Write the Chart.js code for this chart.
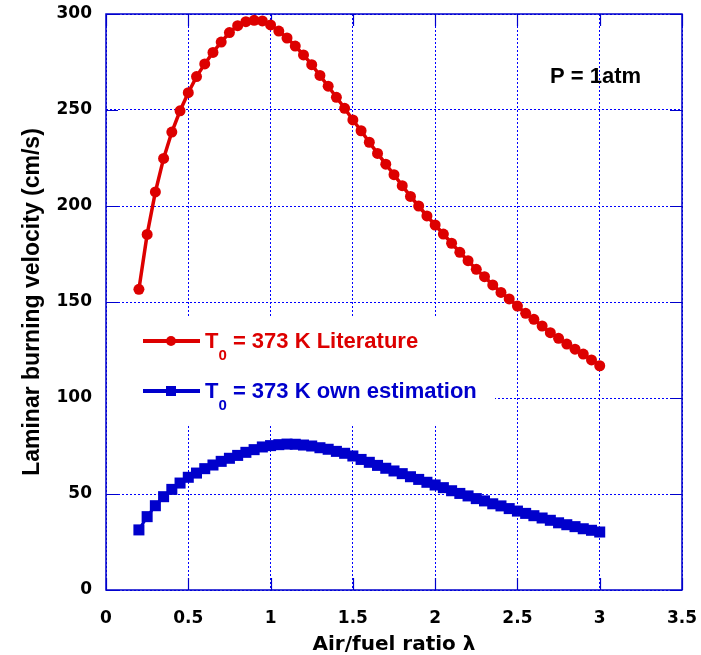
<!DOCTYPE html>
<html>
<head>
<meta charset="utf-8">
<script src="https://cdn.jsdelivr.net/npm/chart.js@4.4.0/dist/chart.umd.min.js"></script>
<style>
html, body { margin: 0; padding: 0; background: #fff; }
#wrap { width: 701px; height: 655px; }
</style>
</head>
<body>
<div id="wrap"><canvas id="burningVelocity" width="701" height="655"></canvas></div>
<script>
// air/fuel ratio (lambda) for both series
const lambdaValues = [
    0.2, 0.25, 0.3, 0.35, 0.4, 0.45, 0.5, 0.55, 0.6, 0.65,
    0.7, 0.75, 0.8, 0.85, 0.9, 0.95, 1.0, 1.05, 1.1, 1.15,
    1.2, 1.25, 1.3, 1.35, 1.4, 1.45, 1.5, 1.55, 1.6, 1.65,
    1.7, 1.75, 1.8, 1.85, 1.9, 1.95, 2.0, 2.05, 2.1, 2.15,
    2.2, 2.25, 2.3, 2.35, 2.4, 2.45, 2.5, 2.55, 2.6, 2.65,
    2.7, 2.75, 2.8, 2.85, 2.9, 2.95, 3.0
];
// laminar burning velocity (cm/s), T0 = 373 K, literature
const literatureVelocity = [
    156.6, 185.2, 207.3, 224.8, 238.5, 249.6, 259.0, 267.4, 274.0, 280.0,
    285.4, 290.3, 293.9, 296.0, 296.7, 296.4, 294.3, 291.1, 287.5, 283.3,
    278.7, 273.6, 268.0, 262.4, 256.6, 250.9, 244.8, 239.2, 233.2, 227.4,
    221.8, 216.3, 210.6, 205.0, 200.0, 194.8, 190.1, 185.4, 180.6, 175.9,
    171.5, 167.0, 163.2, 158.9, 155.0, 151.6, 147.9, 144.1, 141.0, 137.5,
    134.0, 131.1, 128.1, 125.4, 122.9, 119.8, 116.8
];
// laminar burning velocity (cm/s), T0 = 373 K, own estimation
const ownEstimationVelocity = [
    31.3, 38.2, 43.9, 48.6, 52.4, 55.7, 58.7, 60.9, 63.2, 65.1,
    67.0, 68.6, 70.1, 71.7, 73.1, 74.5, 75.2, 75.7, 76.0, 75.9,
    75.5, 75.0, 74.1, 73.3, 72.2, 71.2, 69.8, 68.0, 66.5, 64.9,
    63.4, 62.0, 60.6, 59.0, 57.6, 56.1, 54.7, 53.3, 51.7, 50.3,
    49.0, 47.6, 46.4, 44.9, 43.8, 42.4, 41.1, 39.9, 38.7, 37.5,
    36.3, 35.0, 34.0, 33.0, 31.9, 31.1, 30.2
];
const xTickValues = [0, 0.5, 1, 1.5, 2, 2.5, 3, 3.5];
const xTickLabels = ['0', '0.5', '1', '1.5', '2', '2.5', '3', '3.5'];
const yTickValues = [0, 50, 100, 150, 200, 250, 300];
const yTickLabels = ['0', '50', '100', '150', '200', '250', '300'];
const seriesNames = ['Literature', 'own estimation'];

const RED = '#dd0000';
const BLUE = '#0000cc';
const GRID = '#0000ff';

canvas = document.getElementById('burningVelocity').getContext('2d');

function toPoints(values){
    return lambdaValues.map((l, i) => ({x: l, y: values[i]}));
}

// frame round the plot area plus the short inward tick marks
const frameTicks = {
    id: 'frameTicks',
    beforeDatasetsDraw(chart){
        const ctx = chart.ctx;
        const a = chart.chartArea;
        const xs = chart.scales.x, ys = chart.scales.y;
        ctx.save();
        ctx.strokeStyle = BLUE;
        ctx.lineWidth = 1.5;
        ctx.strokeRect(a.left, a.top, a.right - a.left, a.bottom - a.top);
        ctx.lineWidth = 1.2;
        ctx.beginPath();
        xs.ticks.forEach(t => {
            const px = Math.round(xs.getPixelForValue(t.value)) + 0.5;
            ctx.moveTo(px, a.bottom); ctx.lineTo(px, a.bottom - 12);
            ctx.moveTo(px, a.top); ctx.lineTo(px, a.top + 12);
        });
        ys.ticks.forEach(t => {
            const py = Math.round(ys.getPixelForValue(t.value)) + 0.5;
            ctx.moveTo(a.left, py); ctx.lineTo(a.left + 12, py);
            ctx.moveTo(a.right, py); ctx.lineTo(a.right - 12, py);
        });
        ctx.stroke();

        // pressure note
        ctx.fillStyle = '#000';
        ctx.font = 'bold 22px "Liberation Sans", Arial, sans-serif';
        ctx.textBaseline = 'alphabetic';
        ctx.fillText('P = 1atm', 550, 83);
        ctx.restore();
    }
};

// legend inside the plot, white box hides the grid behind it
const innerLegend = {
    id: 'innerLegend',
    beforeDatasetsDraw(chart){
        const ctx = chart.ctx;
        const a = chart.chartArea;
        ctx.save();
        ctx.fillStyle = '#fff';
        ctx.fillRect(a.left + 1, 317, 388, 108);

        const rows = [
            {y: 341, color: RED, style: 'circle', name: seriesNames[0]},
            {y: 391, color: BLUE, style: 'rect', name: seriesNames[1]}
        ];
        rows.forEach(r => {
            ctx.strokeStyle = r.color;
            ctx.fillStyle = r.color;
            ctx.lineWidth = 4;
            ctx.beginPath();
            ctx.moveTo(143, r.y); ctx.lineTo(200, r.y);
            ctx.stroke();
            if(r.style == 'circle'){
                ctx.beginPath();
                ctx.arc(171, r.y, 5, 0, Math.PI * 2);
                ctx.fill();
            }
            else{
                ctx.fillRect(166, r.y - 5, 10, 10);
            }
            let x = 205;
            ctx.font = 'bold 22px "Liberation Sans", Arial, sans-serif';
            ctx.fillText('T', x, r.y + 7);
            x += ctx.measureText('T').width;
            ctx.font = 'bold 15px "Liberation Sans", Arial, sans-serif';
            ctx.fillText('0', x, r.y + 19);
            x += ctx.measureText('0').width;
            ctx.font = 'bold 22px "Liberation Sans", Arial, sans-serif';
            ctx.fillText(' = 373 K ' + r.name, x, r.y + 7);
        });
        ctx.restore();
    }
};

const config = {
    type: 'line',
    data: {
        datasets: [
            {
                label: 'T0 = 373 K ' + seriesNames[0],
                data: toPoints(literatureVelocity),
                borderColor: RED,
                backgroundColor: RED,
                borderWidth: 3.5,
                pointStyle: 'circle',
                pointRadius: 5.5,
                pointBorderWidth: 0,
                tension: 0
            },
            {
                label: 'T0 = 373 K ' + seriesNames[1],
                data: toPoints(ownEstimationVelocity),
                borderColor: BLUE,
                backgroundColor: BLUE,
                borderWidth: 3,
                pointStyle: 'rect',
                pointRadius: 7.8,
                pointBorderWidth: 0,
                tension: 0
            }
        ]
    },
    options: {
        responsive: false,
        devicePixelRatio: 1,
        animation: false,
        layout: { padding: { top: 14, right: 19, left: 0, bottom: 0 } },
        plugins: {
            legend: { display: false },
            tooltip: { enabled: false }
        },
        scales: {
            x: {
                type: 'linear',
                min: 0,
                max: 3.5,
                afterBuildTicks: s => { s.ticks = xTickValues.map(v => ({value: v})); },
                afterFit: s => { s.height = 65; s.paddingLeft = 0; s.paddingRight = 0; },
                grid: { color: GRID, lineWidth: 1, drawTicks: false },
                border: { display: false, dash: [2, 2] },
                ticks: {
                    padding: 18,
                    color: '#000',
                    callback: (v, i) => xTickLabels[i],
                    font: { family: 'DejaVu Sans', size: 17, weight: 'bold' }
                },
                title: {
                    display: true,
                    text: 'Air/fuel ratio λ',
                    color: '#000',
                    padding: { top: 0, bottom: 0 },
                    font: { family: 'DejaVu Sans', size: 20, weight: 'bold', lineHeight: 1 }
                }
            },
            y: {
                min: 0,
                max: 300,
                afterBuildTicks: s => { s.ticks = yTickValues.map(v => ({value: v})); },
                afterFit: s => { s.width = 106; s.paddingTop = 0; s.paddingBottom = 0; },
                grid: { color: GRID, lineWidth: 1, drawTicks: false },
                border: { display: false, dash: [2, 2] },
                ticks: {
                    padding: 14,
                    color: '#000',
                    callback: (v, i) => yTickLabels[i],
                    font: { family: 'DejaVu Sans', size: 17, weight: 'bold' }
                },
                title: {
                    display: true,
                    text: 'Laminar burning velocity (cm/s)',
                    color: '#000',
                    padding: { top: 19, bottom: 0 },
                    font: { family: 'Liberation Sans', size: 23, weight: 'bold' }
                }
            }
        }
    },
    plugins: [frameTicks, innerLegend]
};
var chart = new Chart(canvas, config);
</script>
</body>
</html>
